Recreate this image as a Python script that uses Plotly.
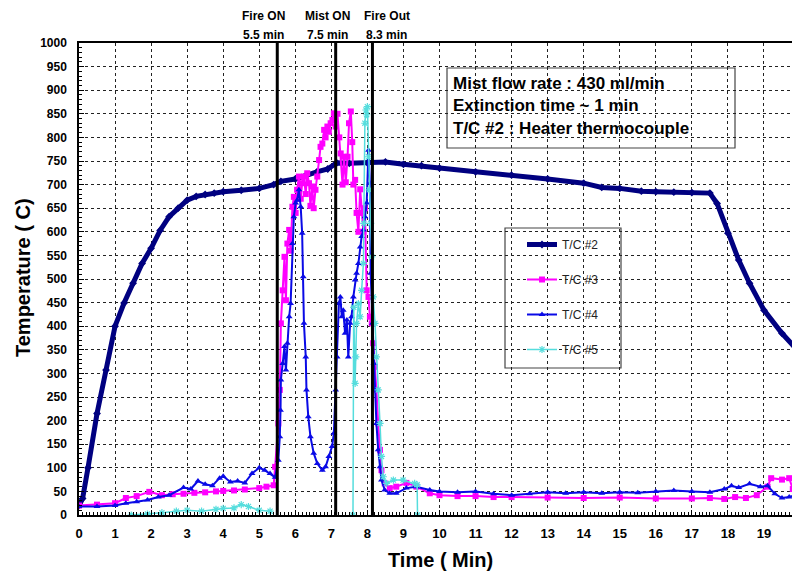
import plotly.graph_objects as go

# ---------------- data ----------------
t2 = [0, 0.1, 0.25, 0.5, 0.75, 1.0, 1.25, 1.5, 1.75, 2.0, 2.25, 2.5, 2.75, 3.0, 3.25, 3.5, 3.75, 4.0, 4.5, 5.0,
      5.4, 5.6, 6.0, 6.3, 6.6, 6.9, 7.15, 7.5, 8.0, 8.5, 9.0, 9.5, 10, 11, 12, 13, 14, 14.5, 15, 15.6, 16, 16.5,
      17, 17.5, 17.7, 18.0, 18.3, 18.6, 19.0, 19.5, 20.0]
v2 = [20, 35, 100, 215, 307, 400, 449, 491, 533, 565, 603, 632, 650, 667, 675, 679, 682, 685, 688, 692,
      700, 707, 712, 720, 727, 733, 746, 745, 746, 748, 743, 740, 735, 727, 720, 712, 703, 694, 692, 686, 685, 684,
      683, 682, 660, 597, 540, 491, 434, 385, 343]

t3 = [0, 0.5, 1.0, 1.3, 1.6, 1.95, 2.3, 2.6, 2.9, 3.2, 3.5, 3.8, 4.0, 4.3, 4.6, 5.0, 5.2, 5.4,
      5.44, 5.53, 5.57, 5.6, 5.65, 5.7, 5.74, 5.78, 5.83, 5.87, 5.92, 5.96, 6.01, 6.05, 6.1, 6.15, 6.19, 6.24,
      6.29, 6.33, 6.38, 6.42, 6.47, 6.51, 6.56, 6.61, 6.66, 6.7, 6.75, 6.8, 6.84, 6.89, 6.93, 6.98, 7.03, 7.07,
      7.12, 7.17, 7.22, 7.26, 7.31, 7.35, 7.4, 7.45, 7.49, 7.54, 7.58, 7.61, 7.66, 7.7, 7.75, 7.8, 7.84, 7.89,
      7.93, 7.98, 8.03, 8.07, 8.12, 8.16, 8.21, 8.25, 8.3, 8.35, 8.39, 8.48, 8.62, 8.8, 9.08, 9.36, 9.73,
      10, 10.5, 11, 11.5, 12, 13, 14, 15, 16, 17, 17.5, 17.9, 18.2, 18.5, 18.8, 19.1, 19.2, 19.5, 19.7, 19.8, 20]
v3 = [20, 22, 25, 36, 40, 49, 42, 44, 45, 47, 48, 50, 51, 52, 54, 57, 60, 63,
      102, 194, 265, 406, 476, 547, 455, 575, 604, 560, 653, 674, 640, 689, 717, 670, 703, 717,
      680, 724, 703, 655, 696, 650, 689, 717, 752, 780, 787, 816, 800, 823, 812, 830, 837, 851,
      823, 850, 800, 766, 700, 759, 705, 759, 830, 855, 790, 700, 710, 640, 600, 690, 640, 600,
      650, 476, 462, 420, 406, 364, 314, 265, 194, 138, 95, 67, 57, 60, 68, 60, 46,
      42, 40, 40, 38, 38, 37, 36, 37, 35, 35, 36, 34, 38, 36, 42, 60, 78, 75, 78, 55, 50]

t4 = [0, 0.5, 1.0, 1.3, 1.6, 1.9, 2.2, 2.5, 2.9, 3.1, 3.3, 3.5, 3.7, 3.9, 4.0, 4.2, 4.4, 4.6, 4.8, 5.0, 5.15, 5.3,
      5.44, 5.53, 5.57, 5.59, 5.6, 5.65, 5.7, 5.74, 5.78, 5.83, 5.87, 5.92, 5.96, 6.01, 6.05, 6.1, 6.15, 6.19,
      6.22, 6.24, 6.29, 6.31, 6.36, 6.42, 6.51, 6.61, 6.75, 6.84, 6.93, 7.02, 7.07, 7.12, 7.16, 7.21, 7.25, 7.29,
      7.33, 7.38, 7.43, 7.47, 7.52, 7.56, 7.61, 7.66, 7.7, 7.75, 7.8, 7.84, 7.89, 7.93, 7.98, 8.03, 8.07, 8.09,
      8.14, 8.18, 8.21, 8.25, 8.3, 8.35, 8.39, 8.48, 8.62, 8.8, 9.08, 9.36, 9.73, 10, 10.5, 11, 11.5, 12, 12.5,
      13, 13.5, 14, 14.5, 15, 15.5, 16, 16.5, 17, 17.5, 17.9, 18.1, 18.3, 18.6, 18.9, 19.1, 19.3, 19.5, 19.7, 20]
v4 = [18, 18, 20, 25, 28, 32, 38, 42, 58, 55, 72, 65, 62, 78, 82, 70, 72, 68, 88, 100, 95, 88,
      80, 116, 166, 222, 286, 321, 357, 307, 364, 420, 448, 575, 632, 661, 667, 689, 653, 597,
      505, 406, 335, 265, 208, 166, 131, 109, 95, 102, 124, 145, 173, 265, 335, 448, 462, 420,
      434, 385, 413, 335, 406, 420, 462, 498, 512, 533, 568, 590, 604, 632, 661, 773, 703, 512,
      406, 321, 265, 194, 138, 102, 74, 53, 46, 46, 57, 60, 53, 50, 48, 50, 45, 42, 45,
      48, 46, 48, 46, 48, 47, 50, 52, 50, 48, 55, 62, 58, 66, 60, 62, 45, 36, 38, 46]

t5 = [1.45, 1.9, 2.3, 2.7, 3.0, 3.4, 3.8, 4.0, 4.3, 4.5, 4.7, 5.0, 5.3, 6.5,
      7.60, 7.62, 7.66, 7.68, 7.70, 7.75, 7.80, 7.84, 7.89, 7.90, 7.93, 7.96, 7.98, 8.00, 8.03, 8.05, 8.09,
      8.12, 8.16, 8.21, 8.25, 8.30, 8.35, 8.39, 8.44, 8.53, 8.72, 8.99, 9.31, 9.38, 9.39]
v5 = [0, 2, 5, 8, 10, 8, 12, 14, 15, 22, 18, 10, 8, None,
      0, 440, 279, 335, 406, 448, 420, 476, 533, 618, 830, 858, 848, 865, 759, 689, 618,
      547, 462, 406, 335, 265, 194, 124, 81, 67, 74, 74, 67, 64, 0]

series_names = ["T/C #2", "T/C #3", "T/C #4", "T/C #5"]
series_colors = ["#000080", "#FF00FF", "#0A0AE6", "#55DDDD"]

event_times = [5.5, 7.12, 8.14]
event_line1 = ["Fire ON", "Mist ON", "Fire Out"]
event_line2 = ["5.5 min", "7.5 min", "8.3 min"]
event_label_x = [5.13, 6.88, 8.54]

info_lines = ["Mist flow rate : 430 ml/min", "Extinction time ~ 1 min", "T/C #2 : Heater thermocouple"]

x_ticks = list(range(0, 21))
y_ticks = list(range(0, 1001, 50))

# --------------- layout helpers (page pixel -> paper) ---------------
# the page body has an 8px margin, so the figure starts at (8, 8) in the window
OFF = 8
W, H = 800 - OFF, 575 - OFF
L, R, T, B = 79, 800, 43, 515   # plot area in window pixels


def px(x):
    return (x - L) / (R - L)


def py(y):
    return (B - y) / (B - T)


NARROW = "Liberation Sans Narrow, Arial Narrow, Liberation Sans, Arial, sans-serif"
ARIAL = "Liberation Sans, Arial, sans-serif"

fig = go.Figure()
fig.add_trace(go.Scatter(x=t2, y=v2, name=series_names[0], mode="lines+markers",
                         line=dict(color=series_colors[0], width=5),
                         marker=dict(symbol="diamond", size=6, color=series_colors[0]),
                         legendgroup="a"))
fig.add_trace(go.Scatter(x=t3, y=v3, name=series_names[1], mode="lines+markers",
                         line=dict(color=series_colors[1], width=2),
                         marker=dict(symbol="square", size=6, color=series_colors[1]),
                         legendgroup="b"))
fig.add_trace(go.Scatter(x=t4, y=v4, name=series_names[2], mode="lines+markers",
                         line=dict(color=series_colors[2], width=2),
                         marker=dict(symbol="triangle-up", size=6, color=series_colors[2]),
                         legendgroup="c"))
fig.add_trace(go.Scatter(x=t5, y=v5, name=series_names[3], mode="lines+markers",
                         line=dict(color=series_colors[3], width=1.5),
                         marker=dict(symbol="asterisk-open", size=6, color=series_colors[3],
                                     line=dict(color=series_colors[3], width=1.2)),
                         connectgaps=False, legendgroup="d"))

shapes = []
shapes.append(dict(type="rect", xref="paper", yref="paper", x0=px(505), x1=px(621), y0=py(368), y1=py(228),
                   fillcolor="white", line=dict(color="#444", width=1.2), layer="below"))
shapes.append(dict(type="rect", xref="paper", yref="paper", x0=px(447), x1=px(735), y0=py(148), y1=py(68),
                   fillcolor="white", line=dict(color="#444", width=1.2), layer="below"))
for et in event_times:
    shapes.append(dict(type="line", xref="x", yref="paper", x0=et, x1=et, y0=0, y1=1,
                       line=dict(color="black", width=3), layer="above"))

annotations = []
for lx, l1, l2 in zip(event_label_x, event_line1, event_line2):
    annotations.append(dict(x=lx, xref="x", y=py(16), yref="paper", text="<b>" + l1 + "</b>",
                            showarrow=False, font=dict(family=NARROW, size=12, color="black"),
                            xanchor="center", yanchor="middle"))
    annotations.append(dict(x=lx, xref="x", y=py(35), yref="paper", text="<b>" + l2 + "</b>",
                            showarrow=False, font=dict(family=NARROW, size=12, color="black"),
                            xanchor="center", yanchor="middle"))
for i, line in enumerate(info_lines):
    annotations.append(dict(x=px(451), xref="paper", y=py(83 + 23 * i), yref="paper",
                            text="<b>" + line + "</b>", showarrow=False,
                            font=dict(family=ARIAL, size=17, color="black"),
                            xanchor="left", yanchor="middle", align="left"))
annotations.append(dict(x=px(23), xref="paper", y=py(278), yref="paper", text="<b>Temperature ( C)</b>",
                        textangle=-90, showarrow=False, font=dict(family=ARIAL, size=20, color="black"),
                        xanchor="center", yanchor="middle"))
annotations.append(dict(x=px(440), xref="paper", y=py(560), yref="paper", text="<b>Time ( Min)</b>",
                        showarrow=False, font=dict(family=NARROW, size=20, color="black"),
                        xanchor="center", yanchor="middle"))

fig.update_layout(
    width=W, height=H,
    margin=dict(l=L - OFF, r=0, t=T - OFF, b=(OFF + H) - B, pad=0, autoexpand=False),
    paper_bgcolor="white", plot_bgcolor="white",
    showlegend=True,
    legend=dict(x=px(522), y=py(230), xanchor="left", yanchor="top", bgcolor="rgba(0,0,0,0)",
                borderwidth=0, font=dict(family=ARIAL, size=12, color="#222"),
                tracegroupgap=16),
    shapes=shapes, annotations=annotations,
    xaxis=dict(range=[0, 20], tickvals=x_ticks, ticktext=["<b>%d</b>" % v for v in x_ticks],
               showgrid=True, gridcolor="#222", griddash="3px,3px", gridwidth=1,
               showline=True, linecolor="black", linewidth=1.5, mirror=True,
               ticks="inside", ticklen=5, tickcolor="black",
               minor=dict(ticks="inside", dtick=0.1, ticklen=3, tickcolor="black", showgrid=False),
               tickfont=dict(family=NARROW, size=13, color="black"), ticklabelstandoff=6,
               zeroline=False, automargin=False, fixedrange=True),
    yaxis=dict(range=[0, 1000], tickvals=y_ticks, ticktext=["<b>%d</b>" % v for v in y_ticks],
               showgrid=True, gridcolor="#222", griddash="3px,3px", gridwidth=1,
               showline=True, linecolor="black", linewidth=1.5, mirror=False,
               ticks="inside", ticklen=5, tickcolor="black",
               minor=dict(ticks="inside", dtick=10, ticklen=3, tickcolor="black", showgrid=False),
               tickfont=dict(family=NARROW, size=12, color="black"), ticklabelstandoff=8,
               zeroline=False, automargin=False, fixedrange=True),
)

fig.write_html("out.html")
